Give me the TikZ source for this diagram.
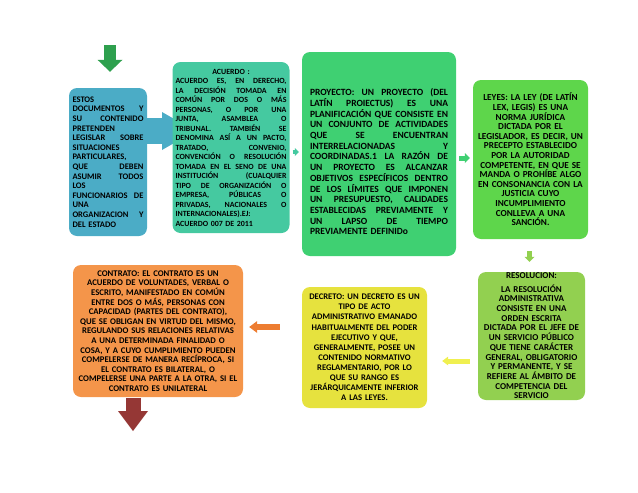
\documentclass[tikz,border=0pt]{standalone}
\usepackage{fontspec}
\setmainfont{Carlito}
\usetikzlibrary{arrows.meta}
\definecolor{estoscol}{HTML}{4BACC6}
\definecolor{acuerdocol}{HTML}{45C9A0}
\definecolor{proyectocol}{HTML}{3FD072}
\definecolor{leyescol}{HTML}{5ED64B}
\definecolor{resolcol}{HTML}{92D050}
\definecolor{decretocol}{HTML}{E6E23E}
\definecolor{contratocol}{HTML}{F4954A}
\definecolor{topcol}{HTML}{2EA04E}
\definecolor{botcol}{HTML}{953735}
\definecolor{naranja}{HTML}{ED7D31}
\definecolor{amarillo}{HTML}{F0F050}
\newcommand\jline[1]{\hbox to\hsize{\spaceskip=.25em plus 1fil\relax#1}}
\newcommand\lline[1]{\hbox to\hsize{#1\hfil}}
\newcommand\mline[1]{\hbox to\hsize{\hfil#1\hfil}}

\begin{document}
\begin{tikzpicture}[x=1pt,y=-1pt,
    box/.style={rounded corners=8pt, inner sep=0pt, text=black},
    txt/.style 2 args={font=\fontsize{#1}{#2}\selectfont\bfseries},
    blk/.style n args={3}{line width=#1, -{Triangle[width=#2, length=#3, line width=0pt]}}]
\useasboundingbox (0,0) rectangle (638,493);
%
% big blue arrow, mostly hidden by the ACUERDO box
\coordinate (blue tail) at (147,131);
\coordinate (blue tip) at (195,131);
\draw[blk={26pt}{38pt}{33pt}, draw=estoscol] (blue tail) -- (blue tip);
%
\node [box, fill=estoscol, txt={8.5}{9.6}, minimum width=78pt, minimum height=148pt, text width=71pt] at (108,162) (estos) {%
\lline{ESTOS}
\jline{DOCUMENTOS Y}
\jline{SU CONTENIDO}
\lline{PRETENDEN}
\jline{LEGISLAR SOBRE}
\lline{SITUACIONES}
\lline{PARTICULARES,}
\jline{QUE DEBEN}
\jline{ASUMIR TODOS}
\lline{LOS}
\jline{FUNCIONARIOS DE}
\lline{UNA}
\jline{ORGANIZACION Y}
\lline{DEL ESTADO}};
\node [box, fill=acuerdocol, txt={7.9}{9.5}, minimum width=117pt, minimum height=171pt, text width=111pt] at (231,147.5) (acuerdo) {%
\mline{ACUERDO :}
\jline{ACUERDO ES, EN DERECHO,}
\jline{LA DECISIÓN TOMADA EN}
\jline{COMÚN POR DOS O MÁS}
\jline{PERSONAS, O POR UNA}
\jline{JUNTA, ASAMBLEA O}
\jline{TRIBUNAL. TAMBIÉN SE}
\jline{DENOMINA ASÍ A UN PACTO,}
\jline{TRATADO, CONVENIO,}
\jline{CONVENCIÓN O RESOLUCIÓN}
\jline{TOMADA EN EL SENO DE UNA}
\jline{INSTITUCIÓN (CUALQUIER}
\jline{TIPO DE ORGANIZACIÓN O}
\jline{EMPRESA, PÚBLICAS O}
\jline{PRIVADAS, NACIONALES O}
\lline{INTERNACIONALES).EJ:}
\lline{ACUERDO 007 DE 2011}};
\node [box, fill=proyectocol, txt={9.5}{10.7}, minimum width=154pt, minimum height=204pt, text width=138pt] at (379,154) (proyecto) {%
\vbox to 12pt{}
\jline{PROYECTO: UN PROYECTO (DEL}
\jline{LATÍN PROIECTUS) ES UNA}
\jline{PLANIFICACIÓN QUE CONSISTE EN}
\jline{UN CONJUNTO DE ACTIVIDADES}
\jline{QUE SE ENCUENTRAN}
\jline{INTERRELACIONADAS Y}
\jline{COORDINADAS.1 LA RAZÓN DE}
\jline{UN PROYECTO ES ALCANZAR}
\jline{OBJETIVOS ESPECÍFICOS DENTRO}
\jline{DE LOS LÍMITES QUE IMPONEN}
\jline{UN PRESUPUESTO, CALIDADES}
\jline{ESTABLECIDAS PREVIAMENTE Y}
\jline{UN LAPSO DE TIEMPO}
\lline{PREVIAMENTE DEFINIDo}};
\node [box, fill=leyescol, txt={9.2}{9.6}, align=center, minimum width=115pt, minimum height=159pt, text width=113pt] at (530.5,159.5) (leyes) {%
LEYES: LA LEY (DE LATÍN\\ LEX, LEGIS) ES UNA\\ NORMA JURÍDICA\\ DICTADA POR EL\\
LEGISLADOR, ES DECIR, UN\\ PRECEPTO ESTABLECIDO\\ POR LA AUTORIDAD\\ COMPETENTE, EN QUE SE\\
MANDA O PROHÍBE ALGO\\ EN CONSONANCIA CON LA\\ JUSTICIA CUYO\\ INCUMPLIMIENTO\\
CONLLEVA A UNA\\ SANCIÓN.};
\node [box, fill=resolcol, txt={9}{9.7}, align=center, minimum width=107pt, minimum height=128pt, text width=105pt] at (531.5,336) (resolucion) {%
RESOLUCION:\\[3.5pt] LA RESOLUCIÓN\\ ADMINISTRATIVA\\ CONSISTE EN UNA\\ ORDEN ESCRITA\\
DICTADA POR EL JEFE DE\\ UN SERVICIO PÚBLICO\\ QUE TIENE CARÁCTER\\ GENERAL, OBLIGATORIO\\
Y PERMANENTE, Y SE\\ REFIERE AL ÁMBITO DE\\ COMPETENCIA DEL\\ SERVICIO};
\node [box, fill=decretocol, txt={8.6}{10.1}, align=center, minimum width=125pt, minimum height=121pt, text width=121pt] at (364.5,347.5) (decreto) {%
DECRETO: UN DECRETO ES UN\\ TIPO DE ACTO\\ ADMINISTRATIVO EMANADO\\ HABITUALMENTE DEL PODER\\
EJECUTIVO Y QUE,\\ GENERALMENTE, POSEE UN\\ CONTENIDO NORMATIVO\\ REGLAMENTARIO, POR LO\\
QUE SU RANGO ES\\ JERÁRQUICAMENTE INFERIOR\\ A LAS LEYES.};
\node [box, fill=contratocol, txt={8.7}{9.6}, align=center, minimum width=170pt, minimum height=132pt, text width=168pt] at (158,331) (contrato) {%
CONTRATO: EL CONTRATO ES UN\\ ACUERDO DE VOLUNTADES, VERBAL O\\ ESCRITO, MANIFESTADO EN COMÚN\\
ENTRE DOS O MÁS, PERSONAS CON\\ CAPACIDAD (PARTES DEL CONTRATO),\\ QUE SE OBLIGAN EN VIRTUD DEL MISMO,\\
REGULANDO SUS RELACIONES RELATIVAS\\ A UNA DETERMINADA FINALIDAD O\\ COSA, Y A CUYO CUMPLIMIENTO PUEDEN\\
COMPELERSE DE MANERA RECÍPROCA, SI\\ EL CONTRATO ES BILATERAL, O\\ COMPELERSE UNA PARTE A LA OTRA, SI EL\\
CONTRATO ES UNILATERAL};
%
\coordinate (top tail) at (110,45);
\coordinate (bottom tip) at (133,431);
%
\draw[blk={12pt}{25pt}{12pt}, draw=topcol] (top tail) -- ([shift={(2,-16)}]estos.north);
\draw[blk={4pt}{8pt}{4pt}, draw=acuerdocol] ([shift={(3,4.5)}]acuerdo.east) -- ([shift={(-3,-2)}]proyecto.west);
\draw[blk={5pt}{10pt}{5pt}, draw=proyectocol] ([shift={(3,4)}]proyecto.east) -- ([shift={(-3,-1.5)}]leyes.west);
\draw[blk={5pt}{10pt}{5pt}, draw=resolcol] ([shift={(-1,12)}]leyes.south) -- ([shift={(-2,-10)}]resolucion.north);
\draw[blk={5pt}{9pt}{6pt}, draw=amarillo] ([shift={(-8,25)}]resolucion.west) -- ([shift={(15,13.5)}]decreto.east);
\draw[blk={6pt}{12pt}{8pt}, draw=naranja] ([shift={(-22,-20.5)}]decreto.west) -- ([shift={(6,-4)}]contrato.east);
\draw[blk={15pt}{30pt}{20pt}, draw=botcol] ([shift={(-25,1)}]contrato.south) -- (bottom tip);

\end{tikzpicture}
\end{document}
